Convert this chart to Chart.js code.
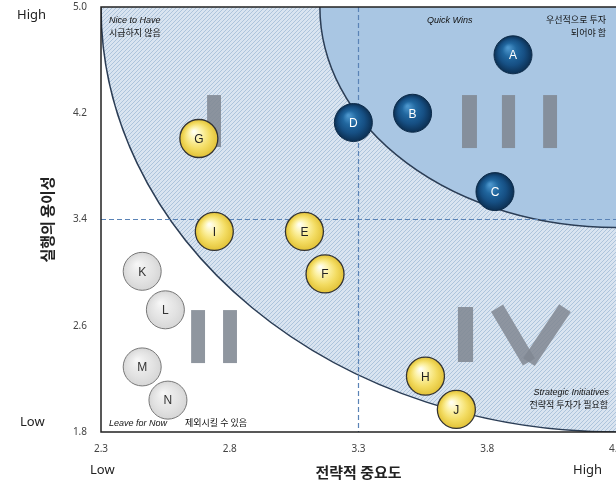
<!DOCTYPE html>
<html>
<head>
<meta charset="utf-8">
<script src="https://cdn.jsdelivr.net/npm/chart.js@4/dist/chart.umd.min.js"></script>
<style>
  html, body { margin: 0; padding: 0; background: #fff; }
  canvas { display: block; }
</style>
</head>
<body>
<canvas id="matrix" width="616" height="484"></canvas>
<script>
// Priority matrix: strategic importance (x) vs. ease of execution (y)
const itemNames   = ['A', 'B', 'C', 'D', 'E', 'F', 'G', 'H', 'I', 'J', 'K', 'L', 'M', 'N'];
const importance  = [3.90, 3.51, 3.83, 3.28, 3.09, 3.17, 2.68, 3.56, 2.74, 3.68, 2.46, 2.55, 2.46, 2.56];
const ease        = [4.64, 4.20, 3.61, 4.13, 3.31, 2.99, 4.01, 2.22, 3.31, 1.97, 3.01, 2.72, 2.29, 2.04];
const itemGroup   = ['blue', 'blue', 'blue', 'blue', 'gold', 'gold', 'gold', 'gold', 'gold', 'gold', 'grey', 'grey', 'grey', 'grey'];

const xTicks = [2.3, 2.8, 3.3, 3.8, 4.3];
const yTicks = [1.8, 2.6, 3.4, 4.2, 5.0];
const xSplit = 3.3;
const ySplit = 3.4;

const BUBBLE_R = 19;

function pointsFor(group) {
  const pts = [];
  itemNames.forEach((n, i) => {
    if (itemGroup[i] === group) pts.push({ x: importance[i], y: ease[i], r: BUBBLE_R, label: n });
  });
  return pts;
}

function sphereFill(colors) {
  return (ctx) => {
    const chart = ctx.chart;
    const raw = ctx.raw;
    if (!raw || !chart.chartArea) return colors[colors.length - 1];
    const cx = chart.scales.x.getPixelForValue(raw.x);
    const cy = chart.scales.y.getPixelForValue(raw.y);
    const g = chart.ctx.createRadialGradient(cx - 5, cy - 7, 1, cx, cy, BUBBLE_R);
    colors.forEach((c, k) => g.addColorStop(k / (colors.length - 1), c));
    return g;
  };
}

// roman numeral strokes, in axis units
const numeralBars = [
  [2.712, 4.337, 2.766, 3.946],
  [2.650, 2.718, 2.704, 2.319], [2.774, 2.718, 2.828, 2.319],
  [3.702, 4.337, 3.760, 3.938], [3.857, 4.337, 3.908, 3.938], [4.017, 4.337, 4.071, 3.938],
  [3.686, 2.741, 3.745, 2.327]
];
const numeralV = [[3.838, 2.733], [3.962, 2.357], [4.102, 2.733]];

const backdrop = {
  id: 'backdrop',
  beforeDatasetsDraw(chart) {
    const { ctx, chartArea: a, scales: { x, y } } = chart;
    ctx.save();
    ctx.beginPath();
    ctx.rect(a.left, a.top, a.right - a.left, a.bottom - a.top);
    ctx.clip();

    const cx = x.getPixelForValue(4.3), cy = y.getPixelForValue(5.0);
    const orx = cx - x.getPixelForValue(2.3), ory = y.getPixelForValue(1.8) - cy;
    const irx = cx - x.getPixelForValue(4.3 - 1.15), iry = y.getPixelForValue(5.0 - 1.66) - cy;

    // outer hatched band
    const tile = document.createElement('canvas');
    tile.width = 4; tile.height = 4;
    const tg = tile.getContext('2d');
    tg.fillStyle = '#d9e4f0'; tg.fillRect(0, 0, 4, 4);
    tg.fillStyle = '#adc4dc';
    for (let i = 0; i < 4; i++) tg.fillRect(i, 3 - i, 1, 1);
    ctx.fillStyle = ctx.createPattern(tile, 'repeat');
    ctx.beginPath();
    ctx.moveTo(cx, cy);
    ctx.ellipse(cx, cy, orx, ory, 0, Math.PI / 2, Math.PI);
    ctx.closePath();
    ctx.fill();

    // inner quick-win zone
    ctx.fillStyle = '#a9c6e3';
    ctx.beginPath();
    ctx.moveTo(cx, cy);
    ctx.ellipse(cx, cy, irx, iry, 0, Math.PI / 2, Math.PI);
    ctx.closePath();
    ctx.fill();

    ctx.strokeStyle = '#2b3d55';
    ctx.lineWidth = 1.5;
    ctx.beginPath();
    ctx.ellipse(cx, cy, orx, ory, 0, Math.PI / 2, Math.PI);
    ctx.stroke();
    ctx.beginPath();
    ctx.ellipse(cx, cy, irx, iry, 0, Math.PI / 2, Math.PI);
    ctx.stroke();

    // split lines
    ctx.strokeStyle = '#5a83b6';
    ctx.lineWidth = 1.2;
    ctx.setLineDash([5, 3]);
    const sx = x.getPixelForValue(xSplit), sy = y.getPixelForValue(ySplit);
    ctx.beginPath();
    ctx.moveTo(sx, a.top); ctx.lineTo(sx, a.bottom);
    ctx.moveTo(a.left, sy); ctx.lineTo(a.right, sy);
    ctx.stroke();
    ctx.setLineDash([]);

    // roman numerals
    ctx.fillStyle = 'rgba(128,135,146,0.88)';
    numeralBars.forEach(([x0, y0, x1, y1]) => {
      const px0 = x.getPixelForValue(x0), py0 = y.getPixelForValue(y0);
      const px1 = x.getPixelForValue(x1), py1 = y.getPixelForValue(y1);
      ctx.fillRect(px0, py0, px1 - px0, py1 - py0);
    });
    ctx.strokeStyle = 'rgba(128,135,146,0.85)';
    ctx.lineWidth = 14;
    ctx.lineCap = 'butt';
    const vp = numeralV.map(([vx, vy]) => [x.getPixelForValue(vx), y.getPixelForValue(vy)]);
    ctx.beginPath(); ctx.moveTo(vp[0][0], vp[0][1]); ctx.lineTo(vp[1][0], vp[1][1] + 4); ctx.stroke();
    ctx.beginPath(); ctx.moveTo(vp[2][0], vp[2][1]); ctx.lineTo(vp[1][0], vp[1][1] + 4); ctx.stroke();

    // quadrant captions
    ctx.fillStyle = '#111';
    ctx.textBaseline = 'middle';
    const it = 'italic 9px "Liberation Sans", Arial, sans-serif';
    const kr = '9px "Noto Sans CJK KR", sans-serif';
    ctx.textAlign = 'left';
    ctx.font = it; ctx.fillText('Nice to Have', a.left + 8, 20);
    ctx.font = kr; ctx.fillText('시급하지 않음', a.left + 8, 33);
    ctx.font = it; ctx.fillText('Quick Wins', 427, 20);
    ctx.font = it; ctx.fillText('Leave for Now', a.left + 8, 423);
    ctx.font = kr; ctx.fillText('제외시킬 수 있음', 185, 423);
    ctx.textAlign = 'right';
    ctx.font = kr; ctx.fillText('우선적으로 투자', 606, 20);
    ctx.fillText('되어야 함', 606, 33);
    ctx.font = it; ctx.fillText('Strategic Initiatives', 609, 392);
    ctx.font = kr; ctx.fillText('전략적 투자가 필요함', 608, 405);
    ctx.restore();
  },
  afterDatasetsDraw(chart) {
    const { ctx } = chart;
    ctx.save();
    ctx.textAlign = 'center';
    ctx.textBaseline = 'middle';
    ctx.font = '12px "Liberation Sans", Arial, sans-serif';
    chart.data.datasets.forEach((ds, di) => {
      chart.getDatasetMeta(di).data.forEach((el, k) => {
        ctx.fillStyle = ds.labelColor;
        ctx.fillText(ds.data[k].label, el.x, el.y + 1);
      });
    });
    ctx.restore();
  },
  afterDraw(chart) {
    const { ctx, chartArea: a } = chart;
    ctx.save();
    ctx.strokeStyle = '#222';
    ctx.lineWidth = 1.5;
    ctx.beginPath();
    ctx.moveTo(a.right + 2, a.top); ctx.lineTo(a.left, a.top);
    ctx.lineTo(a.left, a.bottom); ctx.lineTo(a.right + 2, a.bottom);
    ctx.stroke();
    // end-of-scale markers
    ctx.fillStyle = '#222';
    ctx.font = '13px "Noto Sans", sans-serif';
    ctx.textBaseline = 'middle';
    ctx.textAlign = 'left';
    ctx.fillText('High', 17, 15);
    ctx.fillText('Low', 20, 422);
    ctx.fillText('Low', 90, 470);
    ctx.fillText('High', 573, 470);
    ctx.restore();
  }
};

const fitAxis = (w, h) => (scale) => {
  if (w !== null) scale.width = w;
  if (h !== null) scale.height = h;
  scale.paddingLeft = 0; scale.paddingRight = 0;
  scale.paddingTop = 0; scale.paddingBottom = 0;
};

new Chart(document.getElementById('matrix'), {
  type: 'bubble',
  data: {
    datasets: [
      {
        data: pointsFor('blue'),
        backgroundColor: sphereFill(['#4b95cc', '#21679f', '#164f83', '#0c2f52']),
        borderColor: '#0c2a48', borderWidth: 1, labelColor: '#ffffff'
      },
      {
        data: pointsFor('gold'),
        backgroundColor: sphereFill(['#fffef0', '#fcf1a4', '#f3dc62', '#e2c237']),
        borderColor: '#333333', borderWidth: 1.3, labelColor: '#222222'
      },
      {
        data: pointsFor('grey'),
        backgroundColor: sphereFill(['#f6f6f6', '#ebebeb', '#e2e2e2', '#d6d6d6']),
        borderColor: '#777777', borderWidth: 1, labelColor: '#333333'
      }
    ]
  },
  options: {
    responsive: false,
    animation: false,
    devicePixelRatio: 1,
    layout: { autoPadding: false, padding: { top: 7, right: 0, left: 0, bottom: 0 } },
    plugins: { legend: { display: false }, tooltip: { enabled: false } },
    scales: {
      x: {
        type: 'linear', min: 2.3, max: 4.3,
        grid: { display: false, drawTicks: false },
        border: { display: false },
        afterBuildTicks: (s) => { s.ticks = xTicks.map(v => ({ value: v })); },
        afterFit: fitAxis(null, 52),
        ticks: {
          padding: 11, color: '#444',
          font: { family: '"Noto Sans", sans-serif', size: 10 },
          callback: (v) => Number(v).toFixed(1)
        },
        title: {
          display: true, text: '전략적 중요도', color: '#222',
          font: { family: '"Noto Sans CJK KR", sans-serif', size: 15, weight: 'bold' },
          padding: { top: 0, bottom: 3 }
        }
      },
      y: {
        type: 'linear', min: 1.8, max: 5.0,
        grid: { display: false, drawTicks: false },
        border: { display: false },
        afterBuildTicks: (s) => { s.ticks = yTicks.map(v => ({ value: v })); },
        afterFit: fitAxis(101, null),
        ticks: {
          padding: 14, color: '#444',
          font: { family: '"Noto Sans", sans-serif', size: 10 },
          callback: (v) => Number(v).toFixed(1)
        },
        title: {
          display: true, text: '실행의 용이성', color: '#222',
          font: { family: '"Noto Sans CJK KR", sans-serif', size: 15, weight: 'bold' },
          padding: { top: 38, bottom: 0 }
        }
      }
    }
  },
  plugins: [backdrop]
});
</script>
</body>
</html>
